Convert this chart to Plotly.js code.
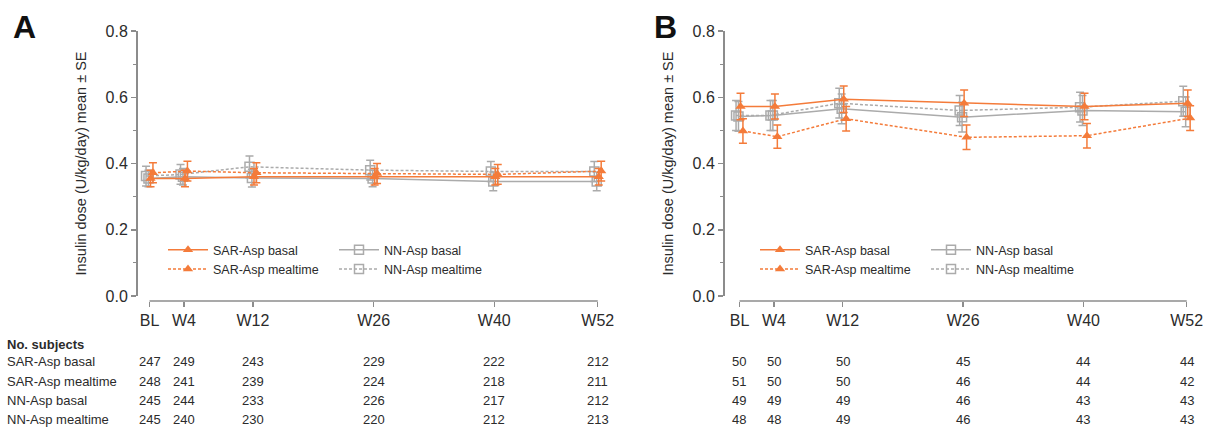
<!DOCTYPE html>
<html>
<head>
<meta charset="utf-8">
<script src="https://cdn.plot.ly/plotly-3.0.1.min.js"></script>
<style>html,body{margin:0;padding:0;background:#fff}#chart{width:1207px;height:428px}</style>
</head>
<body>
<div id="chart"></div>
<script>
// ---------- data ----------
const weeks = [0, 4, 12, 26, 40, 52];
const tickLabels = ['BL', 'W4', 'W12', 'W26', 'W40', 'W52'];
const seriesNames = ['SAR-Asp basal', 'SAR-Asp mealtime', 'NN-Asp basal', 'NN-Asp mealtime'];

// Panel A: insulin dose mean and SE
const A_sarBasal   = [0.355, 0.355, 0.360, 0.360, 0.360, 0.360];
const A_sarBasalSE = [0.025, 0.025, 0.025, 0.025, 0.025, 0.025];
const A_sarMeal    = [0.372, 0.377, 0.372, 0.370, 0.367, 0.377];
const A_sarMealSE  = [0.030, 0.030, 0.030, 0.030, 0.030, 0.030];
const A_nnBasal    = [0.355, 0.360, 0.356, 0.355, 0.346, 0.346];
const A_nnBasalSE  = [0.025, 0.025, 0.027, 0.025, 0.028, 0.028];
const A_nnMeal     = [0.362, 0.367, 0.390, 0.380, 0.376, 0.376];
const A_nnMealSE   = [0.030, 0.030, 0.033, 0.030, 0.030, 0.030];

// Panel B
const B_sarBasal   = [0.572, 0.572, 0.594, 0.582, 0.572, 0.582];
const B_sarBasalSE = [0.040, 0.038, 0.040, 0.040, 0.040, 0.040];
const B_sarMeal    = [0.498, 0.481, 0.535, 0.479, 0.484, 0.537];
const B_sarMealSE  = [0.037, 0.035, 0.037, 0.037, 0.037, 0.037];
const B_nnBasal    = [0.542, 0.545, 0.565, 0.540, 0.560, 0.556];
const B_nnBasalSE  = [0.045, 0.045, 0.045, 0.045, 0.045, 0.045];
const B_nnMeal     = [0.545, 0.545, 0.582, 0.560, 0.570, 0.588];
const B_nnMealSE   = [0.045, 0.045, 0.045, 0.045, 0.045, 0.045];

// Number of subjects
const A_nSarBasal = [247, 249, 243, 229, 222, 212];
const A_nSarMeal  = [248, 241, 239, 224, 218, 211];
const A_nNnBasal  = [245, 244, 233, 226, 217, 212];
const A_nNnMeal   = [245, 240, 230, 220, 212, 213];
const B_nSarBasal = [50, 50, 50, 45, 44, 44];
const B_nSarMeal  = [51, 50, 50, 46, 44, 42];
const B_nNnBasal  = [49, 49, 49, 46, 43, 43];
const B_nNnMeal   = [48, 48, 49, 46, 43, 43];

// ---------- style / layout helpers ----------
const W = 1207, H = 428;
const px = p => p / W;
const py = p => 1 - p / H;
const ORANGE = '#F47B3A';
const GRAY = '#ABABAB';
const AXIS = '#8C8C8C';
const TXT = '#2b2b2b';
const FONT = 'Liberation Sans, Arial, sans-serif';
const XMIN = -2, XMAX = 53.5;
// jitter (style) so error bars do not overlap
const jitter = {sb: 0.12, sm: 0.4, nb: -0.12, nm: -0.4};

function tr(name, y, se, xa, ya, kind, legend, showleg) {
  const isSar = kind[0] === 's';
  const isMeal = kind[1] === 'm';
  const color = isSar ? ORANGE : GRAY;
  return {
    type: 'scatter', mode: 'lines+markers', name: name,
    x: weeks.map(w => w + jitter[kind]), y: y,
    xaxis: xa, yaxis: ya, legend: legend, showlegend: showleg,
    cliponaxis: false,
    line: {color: color, width: 1.5, dash: isMeal ? '3px,2px' : 'solid'},
    marker: isSar
      ? {symbol: 'triangle-up', size: 9, color: color}
      : {symbol: 'square-open', size: 9, color: color, line: {color: color, width: 1.5}},
    error_y: {type: 'data', array: se, visible: true, color: color, thickness: 1.5, width: 4}
  };
}

const data = [
  tr(seriesNames[2], A_nnBasal, A_nnBasalSE, 'x', 'y', 'nb', 'legend2', true),
  tr(seriesNames[3], A_nnMeal, A_nnMealSE, 'x', 'y', 'nm', 'legend2', true),
  tr(seriesNames[0], A_sarBasal, A_sarBasalSE, 'x', 'y', 'sb', 'legend', true),
  tr(seriesNames[1], A_sarMeal, A_sarMealSE, 'x', 'y', 'sm', 'legend', true),
  tr(seriesNames[2], B_nnBasal, B_nnBasalSE, 'x2', 'y2', 'nb', 'legend4', true),
  tr(seriesNames[3], B_nnMeal, B_nnMealSE, 'x2', 'y2', 'nm', 'legend4', true),
  tr(seriesNames[0], B_sarBasal, B_sarBasalSE, 'x2', 'y2', 'sb', 'legend3', true),
  tr(seriesNames[1], B_sarMeal, B_sarMealSE, 'x2', 'y2', 'sm', 'legend3', true)
];

function xaxisFor(c0, slope) {
  return {
    domain: [px(c0 + slope * XMIN), px(c0 + slope * XMAX)],
    range: [XMIN, XMAX], anchor: 'free', position: py(301),
    tickmode: 'array', tickvals: weeks, ticktext: tickLabels,
    ticks: 'outside', ticklen: 5, tickwidth: 1.5, tickcolor: AXIS,
    tickfont: {size: 16, color: TXT, family: FONT},
    showline: false, showgrid: false, zeroline: false, fixedrange: true
  };
}
function yaxisFor(pos) {
  return {
    domain: [py(296), py(31)], range: [0, 0.8], anchor: 'free', position: px(pos),
    tickmode: 'linear', tick0: 0, dtick: 0.2, tickformat: '.1f',
    ticks: 'outside', ticklen: 5, tickwidth: 1.5, tickcolor: AXIS,
    minor: {dtick: 0.1, ticks: 'outside', ticklen: 3, tickwidth: 1.2, tickcolor: AXIS},
    tickfont: {size: 16, color: TXT, family: FONT},
    showline: true, linecolor: AXIS, linewidth: 1.5,
    showgrid: false, zeroline: false, fixedrange: true,
    title: {text: 'Insulin dose (U/kg/day) mean ± SE', font: {size: 14.5, color: TXT, family: FONT}, standoff: 14}
  };
}
function legendAt(x, y) {
  return {x: px(x), xanchor: 'left', y: py(y), yanchor: 'top', orientation: 'v',
          bgcolor: 'rgba(0,0,0,0)', borderwidth: 0, itemwidth: 40, tracegroupgap: 0,
          font: {size: 12.5, color: TXT, family: FONT}};
}

const annotations = [];
annotations.push({xref: 'paper', yref: 'paper', x: px(24), y: py(27), text: '<b>A</b>', showarrow: false,
  xanchor: 'center', yanchor: 'middle', font: {size: 32, color: '#111', family: FONT}});
annotations.push({xref: 'paper', yref: 'paper', x: px(665), y: py(27), text: '<b>B</b>', showarrow: false,
  xanchor: 'center', yanchor: 'middle', font: {size: 32, color: '#111', family: FONT}});
annotations.push({xref: 'paper', yref: 'paper', x: px(5), y: py(344), text: '<b>No. subjects</b>', showarrow: false,
  xanchor: 'left', yanchor: 'middle', font: {size: 13, color: TXT, family: FONT}});

const rowY = [361, 381, 400, 419];
const rowsA = [A_nSarBasal, A_nSarMeal, A_nNnBasal, A_nNnMeal];
const rowsB = [B_nSarBasal, B_nSarMeal, B_nNnBasal, B_nNnMeal];
seriesNames.forEach((nm, r) => {
  annotations.push({xref: 'paper', yref: 'paper', x: px(5), y: py(rowY[r]), text: nm, showarrow: false,
    xanchor: 'left', yanchor: 'middle', font: {size: 13, color: TXT, family: FONT}});
  [['x', rowsA], ['x2', rowsB]].forEach(([xr, rows]) => {
    weeks.forEach((w, i) => {
      annotations.push({xref: xr, yref: 'paper', x: w, y: py(rowY[r]), text: String(rows[r][i]),
        showarrow: false, xanchor: 'center', yanchor: 'middle', font: {size: 13, color: TXT, family: FONT}});
    });
  });
});

const shapes = [
  {type: 'line', xref: 'x', yref: 'paper', x0: weeks[0], x1: weeks[weeks.length - 1], y0: py(301), y1: py(301),
   line: {color: AXIS, width: 1.5}},
  {type: 'line', xref: 'x2', yref: 'paper', x0: weeks[0], x1: weeks[weeks.length - 1], y0: py(301), y1: py(301),
   line: {color: AXIS, width: 1.5}}
];

const layout = {
  width: W, height: H, margin: {l: 0, r: 0, t: 0, b: 0},
  paper_bgcolor: '#fff', plot_bgcolor: 'rgba(0,0,0,0)',
  font: {family: FONT, color: TXT},
  xaxis: xaxisFor(149.5, 8.62),
  yaxis: yaxisFor(136),
  xaxis2: xaxisFor(739.5, 8.6),
  yaxis2: yaxisFor(723),
  legend: legendAt(163, 235),
  legend2: legendAt(334, 235),
  legend3: legendAt(755, 235),
  legend4: legendAt(926, 235),
  annotations: annotations,
  shapes: shapes
};

Plotly.newPlot('chart', data, layout, {displayModeBar: false, staticPlot: true});
</script>
</body>
</html>
